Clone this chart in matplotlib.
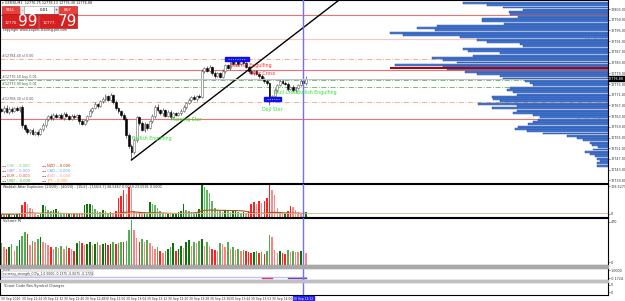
import numpy as np
import matplotlib.pyplot as plt
from matplotlib.patches import Rectangle

# --- Données (GER30 M1, 30 Sep 2020) ---
closes = [12765.0, 12766.2, 12764.5, 12765.8, 12764.9, 12766.0, 12765.2, 12766.4, 12759.6, 12758.2,
          12757.0, 12757.8, 12756.5, 12757.2, 12756.3, 12758.0, 12759.5, 12761.8, 12763.0, 12762.2,
          12763.6, 12762.8, 12763.5, 12762.4, 12763.9, 12763.0, 12762.1, 12763.2, 12762.6, 12763.4,
          12761.0, 12760.2, 12761.4, 12763.0, 12764.8, 12766.0, 12767.4, 12766.8, 12768.5, 12769.3,
          12770.5, 12769.0, 12770.8, 12768.2, 12766.0, 12764.8, 12763.5, 12762.0, 12756.0, 12752.0,
          12749.5, 12754.0, 12762.5, 12760.5, 12757.8, 12760.0, 12758.5, 12761.0, 12763.0, 12766.5,
          12765.2, 12764.0, 12765.3, 12763.2, 12764.5, 12762.8, 12764.0, 12763.5, 12764.2, 12765.0,
          12766.5, 12767.8, 12769.0, 12770.0, 12769.5, 12770.6, 12770.2, 12779.8, 12781.0, 12780.0,
          12781.5, 12779.2, 12778.0, 12779.0, 12777.8, 12779.8, 12782.0, 12781.0, 12783.5, 12782.5,
          12783.8, 12782.6, 12784.0, 12783.0, 12781.5, 12780.0, 12779.2, 12779.8, 12778.8, 12778.0,
          12777.0, 12776.3, 12775.2, 12769.2, 12770.5, 12772.8, 12774.6, 12776.0, 12775.5, 12775.0,
          12773.2, 12774.0, 12772.6, 12773.5, 12774.5, 12776.0, 12775.2, 12776.9]
open0 = 12765.5
upper_wick = [0.6, 0.4, 0.8, 0.5, 0.7, 0.3, 0.9, 0.5, 0.6, 0.4,
              0.7, 0.5, 0.8, 0.4, 0.6, 0.5, 0.9, 0.6, 0.4, 0.8,
              0.5, 0.7, 0.3, 0.6, 0.5, 0.8, 0.4, 0.6, 0.7, 0.5,
              0.4, 0.8, 0.6, 0.5, 0.9, 0.4, 0.7, 0.6, 0.5, 0.8,
              0.6, 0.4, 0.9, 0.5, 0.7, 0.4, 0.6, 0.5, 0.8, 0.6,
              0.4, 0.9, 0.7, 0.5, 0.6, 0.8, 0.4, 0.6, 0.7, 0.5,
              0.9, 0.4, 0.6, 0.5, 0.8, 0.6, 0.4, 0.7, 0.5, 0.6,
              0.8, 0.4, 0.6, 0.5, 0.9, 0.4, 0.6, 0.7, 0.5, 0.8,
              0.6, 0.4, 0.7, 0.5, 0.6, 0.9, 0.4, 0.6, 0.5, 0.8,
              0.6, 0.4, 0.8, 0.5, 0.6, 0.4, 0.7, 0.5, 0.6, 0.4,
              0.8, 0.5, 0.6, 0.7, 0.4, 0.6, 0.5, 0.8, 0.9, 0.5,
              0.6, 0.4, 0.7, 0.5, 0.6, 0.8, 0.4, 1.2]
lower_wick = [0.5, 0.7, 0.4, 0.6, 0.8, 0.5, 0.4, 0.7, 0.9, 0.6,
              0.5, 0.8, 0.4, 0.6, 0.7, 0.5, 0.4, 0.6, 0.8, 0.5,
              0.7, 0.4, 0.6, 0.5, 0.8, 0.4, 0.7, 0.6, 0.5, 0.4,
              0.8, 0.6, 0.5, 0.7, 0.4, 0.6, 0.5, 0.8, 0.4, 0.6,
              0.7, 0.5, 0.4, 0.6, 0.8, 0.5, 0.7, 0.6, 1.0, 0.8,
              2.9, 0.6, 0.5, 0.7, 0.4, 0.6, 0.8, 0.5, 0.4, 0.7,
              0.6, 0.5, 0.8, 0.4, 0.6, 0.7, 0.5, 0.4, 0.6, 0.8,
              0.5, 0.7, 0.4, 0.6, 0.5, 0.8, 0.4, 0.6, 0.7, 0.5,
              0.4, 0.8, 0.6, 0.5, 0.7, 0.4, 0.6, 0.5, 0.8, 0.4,
              0.6, 0.7, 0.5, 0.4, 0.6, 0.8, 0.5, 0.7, 0.4, 0.6,
              0.5, 0.8, 0.4, 2.0, 0.6, 0.5, 0.7, 0.4, 0.6, 0.5,
              0.8, 0.4, 0.6, 0.7, 0.5, 0.4, 0.6, 0.5]
volumes = [220, 180, 160, 180, 210, 140, 190, 260, 300, 340,
           320, 200, 250, 240, 270, 290, 240, 220, 200, 180,
           160, 180, 170, 190, 160, 190, 170, 160, 140, 220,
           250, 220, 200, 210, 240, 200, 210, 230, 200, 210,
           220, 200, 210, 230, 210, 220, 240, 230, 250, 360,
           460, 360, 280, 240, 270, 230, 260, 220, 190, 160,
           180, 140, 120, 140, 160, 180, 220, 140, 160, 190,
           170, 240, 260, 190, 240, 220, 250, 270, 190, 240,
           190, 160, 150, 140, 220, 210, 180, 230, 160, 180,
           150, 160, 140, 150, 140, 130, 120, 130, 140, 120,
           130, 110, 140, 310, 290, 150, 120, 140, 120, 110,
           150, 130, 140, 130, 130, 140, 150, 120]
# Waddah Attar Explosion : histogramme (+ vert / - rouge) et ligne d'explosion
wae = [-3, 2, -2, 3, -2, 2, 3, -4, -12, -15,
       -13, -9, -8, -3, 2, 3, 12, 11, 7, 6,
       7, 8, 6, 4, 3, -3, 4, 3, -4, 3,
       -4, -3, 12, 13, 13, 12, 8, 6, 5, 7,
       6, 4, 5, -4, -6, -18, -20, -26, -22, -29,
       -28, -6, 4, -5, -4, 5, 4, 15, 13, 12,
       9, 6, 4, -3, 4, -3, 3, 4, 5, 6,
       13, 7, 6, 5, 4, 5, 8, 31, 29, 26,
       23, 16, 9, 7, 6, 5, 7, 6, 5, 6,
       7, 5, 4, 5, -4, -6, -13, -15, -13, -16,
       -14, -16, -18, -31, -26, -21, -9, -5, -4, 4,
       -6, -11, -10, -7, -5, -4, -3, 5]
wae_line = [2.6, 2.7, 2.7, 2.8, 2.7, 2.8, 2.9, 3.0, 3.3, 3.6,
            3.8, 3.9, 3.8, 3.7, 3.6, 3.6, 3.7, 3.8, 3.8, 3.7,
            3.6, 3.6, 3.5, 3.5, 3.4, 3.4, 3.3, 3.3, 3.2, 3.2,
            3.2, 3.1, 3.3, 3.5, 3.6, 3.6, 3.5, 3.5, 3.4, 3.4,
            3.3, 3.3, 3.3, 3.4, 3.6, 3.9, 4.2, 4.5, 4.7, 4.9,
            5.0, 4.9, 4.7, 4.5, 4.3, 4.1, 4.0, 4.1, 4.2, 4.1,
            4.0, 3.9, 3.8, 3.7, 3.6, 3.5, 3.5, 3.4, 3.4, 3.5,
            3.6, 3.6, 3.7, 3.8, 4.0, 4.4, 5.2, 6.0, 6.4, 6.6,
            6.7, 6.7, 6.6, 6.5, 6.5, 6.4, 6.4, 6.3, 6.3, 6.2,
            6.2, 6.1, 6.0, 5.8, 5.4, 4.8, 4.2, 3.9, 3.7, 3.6,
            3.6, 3.7, 3.8, 4.2, 4.4, 4.5, 4.4, 4.3, 4.1, 4.0,
            3.9, 3.8, 3.8, 3.7, 3.6, 3.6, 3.5, 3.5]
wae_deadzone = 3.9

# Profil de volume (du haut vers le bas)
profile_top = 12805.3
profile_step = 0.856
profile_vol = [145, 121, 105, 85, 99, 98, 90, 126, 126, 104,
               171, 191, 173, 218, 205, 148, 131, 121, 88, 85,
               145, 140, 108, 135, 176, 165, 151, 213, 165, 161,
               143, 131, 108, 105, 83, 78, 75, 98, 101, 95,
               91, 116, 115, 108, 130, 91, 116, 91, 95, 75,
               68, 70, 75, 80, 90, 93, 81, 65, 41, 31,
               25, 18, 16, 10, 15, 23, 18, 13, 11, 8,
               11, 11]
poc_price = 12781.0
bid = 12776.88

# Niveaux horizontaux
red_levels = [12800.8, 12780.3, 12761.9]
pink_levels = [12791.9]
orange_levels = [12784.4, 12768.3]
green_levels = [12776.5, 12773.9]
level_names = ["#12784.40 sl 0.00", "#12776.50 buy 0.01", "#12773.90 buy 0.01", "#12768.30 sl 0.00"]
level_prices = [12784.4, 12776.5, 12773.9, 12768.3]

# Ligne de tendance (barre, prix) : rayon vers la droite
trend_a = (50, 12746.6)
trend_b = (92, 12778.1)

# Boites bleues (barre début, barre fin, prix bas, prix haut)
boxes = [(86, 95, 12783.6, 12785.1), (101, 107.5, 12768.7, 12770.2)]

# Figures de chandeliers
pattern_names = ["Bearish Engulfing", "Bear Cross", "Bull Cross", "Bullish Engulfing",
                 "Doji Star", "Bullish Engulfing", "Morning Star"]
pattern_bars = [87.8, 95.5, 105.0, 113.6, 100.0, 50.2, 65.2]
pattern_prices = [12782.1, 12778.8, 12771.7, 12771.7, 12765.3, 12754.5, 12761.6]
pattern_colors = ["#ff3030", "#ff3030", "#30e030", "#30e030", "#30e030", "#30e030", "#30e030"]

price_ticks = [12803.0 - 4.0 * k for k in range(17)]
time_bars = [0, 8, 16, 24, 32, 40, 48, 56, 64, 72, 80, 88, 96, 104]
time_labels = ["30 Sep 2020", "30 Sep 12:24", "30 Sep 12:32", "30 Sep 12:40", "30 Sep 12:48",
               "30 Sep 12:56", "30 Sep 13:04", "30 Sep 13:12", "30 Sep 13:20", "30 Sep 13:28",
               "30 Sep 13:36", "30 Sep 13:44", "30 Sep 13:52", "30 Sep 14:00"]
cursor_bar = 116
cursor_label = "30 Sep 14:12"

currencies = ["CHF", "GBP", "EUR", "USD", "NZD", "CAD", "AUD", "JPY"]
currency_values = [0.000, 0.000, 0.000, 0.000, 0.000, 0.000, 0.000, 0.000]
currency_colors = ["#66cc66", "#8888ff", "#ff3333", "#33aa33", "#cc3300", "#33bbee", "#ff88cc", "#ff9900"]

# --- Figure ---
W, H = 625, 301
fig = plt.figure(figsize=(W / 100, H / 100), dpi=100)


def ax_px(x0, y0, x1, y1):
    return fig.add_axes([x0 / W, 1 - y1 / H, (x1 - x0) / W, (y1 - y0) / H])


XMIN, XMAX = -0.5, 233.0
FS = 2.4

n = len(closes)
idx = np.arange(n)
c = np.array(closes)
o = np.r_[open0, c[:-1]]
hi = np.maximum(o, c) + np.array(upper_wick)
lo = np.minimum(o, c) - np.array(lower_wick)
bull = c >= o


def style_panel(a):
    a.set_xlim(XMIN, XMAX)
    a.set_xticks([])
    a.yaxis.tick_right()
    a.tick_params(axis='y', labelsize=FS, length=1.2, pad=0.6, width=0.4, colors='#333333')
    for s in a.spines.values():
        s.set_linewidth(0.8)
        s.set_color('black')
    a.axvline(cursor_bar, color='#7070ff', lw=1.0, zorder=6)


# Graphique principal
ax = ax_px(0, 0, 608, 183)
style_panel(ax)
ax.set_ylim(12738.0, 12806.4)
ax.set_yticks(price_ticks)
ax.set_yticklabels([f"{p:.2f}" for p in price_ticks])

for lv in red_levels:
    ax.axhline(lv, color='#f07070', lw=0.8, zorder=1)
for lv in pink_levels:
    ax.axhline(lv, color='#f8c4c4', lw=0.8, zorder=1)
for lv in orange_levels:
    ax.axhline(lv, color='#f4a080', lw=0.6, ls=(0, (6, 2, 1, 2)), zorder=1)
for lv in green_levels:
    ax.axhline(lv, color='#60b060', lw=0.6, ls=(0, (6, 2, 1, 2)), zorder=1)
ax.axhline(bid, color='#c8c8c8', lw=0.7, zorder=1)
for name, p in zip(level_names, level_prices):
    ax.text(0.2, p + 0.5, name, fontsize=2.4, color='#555555', va='bottom', ha='left')

ax.vlines(idx, lo, hi, color='#444444', lw=0.5, zorder=3)
ax.bar(idx, np.maximum(np.abs(c - o), 0.2), bottom=np.minimum(o, c), width=0.72,
       color=np.where(bull, 'white', 'black'), edgecolor=np.where(bull, '#666666', 'black'),
       lw=0.4, zorder=4)

# rayon : part du point A et continue au-delà du point B
slope = (trend_b[1] - trend_a[1]) / (trend_b[0] - trend_a[0])
ray_x = [trend_a[0], trend_a[0] + 200]
ray_y = [trend_a[1], trend_a[1] + 200 * slope]
ax.plot(ray_x, ray_y, color='black', lw=1.0, zorder=5)

for b0, b1, p0, p1 in boxes:
    ax.add_patch(Rectangle((b0, p0), b1 - b0, p1 - p0, color='#1010ee', zorder=5))
    ax.plot([b0 + 1, b1 - 1], [(p0 + p1) / 2] * 2, color='white', lw=0.4, ls=(0, (2, 2)), zorder=6)

for name, b, p, col in zip(pattern_names, pattern_bars, pattern_prices, pattern_colors):
    ax.text(b, p, name, fontsize=3.4, color=col, ha='left', va='center', zorder=7)

# Profil de volume sur un axe jumeau
axp = ax.twiny()
axp.set_xlim(608, 0)
axp.set_xticks([])
levels = profile_top - profile_step * np.arange(len(profile_vol))
axp.barh(levels, profile_vol, height=profile_step * 0.85, left=0, color='#4a80d8',
         edgecolor='#1c3c8c', lw=0.3, zorder=2)
axp.hlines(poc_price, 0, max(profile_vol), color='#b00000', lw=1.4, zorder=3)
axp.axhline(bid, color='#c0c0c0', lw=0.8, zorder=3)
for s in axp.spines.values():
    s.set_visible(False)
for txt, p, col in [("R2 - 12801.4", 12801.0, '#4a9a4a'), ("R1 - 12792.0", 12792.1, '#4a9a4a'),
                    ("PP - 12781.0", 12781.4, '#c04040'), ("S1 - S2 - 12762.0", 12762.1, '#4a9a4a')]:
    ax.text(232.5, p, txt, fontsize=2.4, color=col, ha='right', va='center', zorder=8)

ax.text(1.0, bid, f"{bid:.2f}", transform=ax.get_yaxis_transform(), fontsize=FS, color='white',
        va='center', ha='left', bbox=dict(boxstyle='square,pad=0.15', fc='black', ec='black'),
        clip_on=False, zorder=9)

# Waddah Attar Explosion
ax2 = ax_px(0, 184, 608, 217)
style_panel(ax2)
w = np.array(wae)
mag = np.abs(w)
rising = np.r_[True, mag[1:] >= mag[:-1]]
wcol = np.where(w > 0, np.where(rising, '#0a780a', '#62b862'), np.where(rising, '#ff2020', '#ff8a8a'))
ax2.bar(idx, mag, width=0.6, color=wcol)
ax2.plot(idx, wae_line, color='#a0521e', lw=0.8)
ax2.axhline(wae_deadzone, color='#d8b890', lw=0.6)
ax2.set_ylim(0, 32)
ax2.set_yticks([3, 30])
ax2.set_yticklabels(['0', '109.5279'])
ax2.text(0.5, 31, "Waddah Attar Explosion: [20/20] - [40/20] - [15/2] - [150/3.7] 48.5467 0.0059 23.0591 0.5000",
         fontsize=2.4, color='#333333', va='top')

# Volume M
ax3 = ax_px(0, 218, 608, 265)
style_panel(ax3)
v = np.array(volumes)
vup = np.r_[True, v[1:] > v[:-1]]
vcol = np.where(vup, np.where(bull, '#0b730b', '#4caf50'), np.where(bull, '#ff8080', '#ff2020'))
ax3.bar(idx, v, width=0.6, color=vcol)
ax3.set_ylim(0, 480)
ax3.set_yticks([30, 440])
ax3.set_yticklabels(['0', '470'])
ax3.text(0.5, 465, "Volume M", fontsize=2.6, color='#333333', va='top')

# CCFp
ax4 = ax_px(0, 268, 608, 280)
style_panel(ax4)
ax4.set_ylim(-0.2, 0.1)
ax4.set_yticks([-0.15, 0.05])
ax4.set_yticklabels(['-0.1724', '1.0000'])
ax4.plot([0, 117], [-0.12, -0.12], color='#c8c0f0', lw=1.0)
ax4.plot([100, 104], [-0.14, -0.14], color='#d0407a', lw=1.0)
ax4.plot([110, 117], [-0.14, -0.14], color='#7a3fb0', lw=1.0)
ax4.text(0.5, 0.095, "CCFp", fontsize=2.2, color='#333333', va='top')
ax4.text(0.5, -0.045, "currency_strength_CCFp_1.0 0000 -0.1375 -0.0675 -0.1724",
         fontsize=2.2, color='#333333', va='center',
         bbox=dict(boxstyle='square,pad=0.1', fc='white', ec='#888888', lw=0.3))

# YCroot
ax5 = ax_px(0, 282, 608, 295)
style_panel(ax5)
ax5.set_ylim(0, 1)
ax5.set_yticks([0.2, 0.8])
ax5.set_yticklabels(['0', '0'])
ax5.text(0.5, 0.85, "YCroot Code Res Symbol Changer", fontsize=2.6, color='#333333', va='top')
for b, lab in zip(time_bars, time_labels):
    ax5.text(b, -0.12, lab, fontsize=2.2, color='#333333', ha='left', va='top', clip_on=False)
ax5.text(cursor_bar, -0.12, cursor_label, fontsize=2.2, color='white', ha='center', va='top',
         clip_on=False, bbox=dict(boxstyle='square,pad=0.15', fc='#2020ff', ec='#2020ff'))

# Bandes grises entre sous-fenêtres
ui = fig.add_axes([0, 0, 1, 1])
ui.set_xlim(0, W)
ui.set_ylim(H, 0)
ui.axis('off')
ui.add_patch(Rectangle((0, 265), 608, 3, color='#a8a8a8'))
ui.add_patch(Rectangle((0, 280), 608, 2, color='#c0c0c0'))

# Panneau de trading en haut à gauche
ui.text(2, 2.5, "▾ GER30,M1  12776.75 12778.13 12776.38 12776.88", fontsize=2.4, color='#222222', va='center')
ui.add_patch(Rectangle((2, 6), 17, 8, fc='#e8413c', ec='#b01010', lw=0.4))
ui.text(10.5, 10, "SELL", fontsize=2.8, color='white', ha='center', va='center')
ui.add_patch(Rectangle((20, 6), 4, 8, fc='#e8e8e8', ec='#999999', lw=0.4))
ui.text(22, 10, "-", fontsize=2.8, color='black', ha='center', va='center')
ui.add_patch(Rectangle((24, 6), 30, 8, fc='white', ec='#999999', lw=0.4))
ui.text(44, 10, "0.01", fontsize=2.8, color='black', ha='center', va='center')
ui.add_patch(Rectangle((54, 6), 4, 8, fc='#e8e8e8', ec='#999999', lw=0.4))
ui.text(56, 10, "+", fontsize=2.8, color='black', ha='center', va='center')
ui.add_patch(Rectangle((59, 6), 18, 8, fc='#e8413c', ec='#b01010', lw=0.4))
ui.text(68, 10, "BUY", fontsize=2.8, color='white', ha='center', va='center')
ui.add_patch(Rectangle((2, 14), 36, 14, fc='#d81e1e', ec='#a01010', lw=0.4))
ui.add_patch(Rectangle((39, 14), 38, 14, fc='#d81e1e', ec='#a01010', lw=0.4))
ui.text(11, 23, "12776.", fontsize=2.8, color='white', ha='center', va='center')
ui.text(28, 21, "99", fontsize=11, color='white', ha='center', va='center')
ui.text(49, 23, "12777.", fontsize=2.8, color='white', ha='center', va='center')
ui.text(67, 21, "79", fontsize=11, color='white', ha='center', va='center')
ui.text(3, 30.5, "copyright www.expert-trading-pro.com", fontsize=2.4, color='#333333', va='center')

# Légende des devises
for k, (cur, val, col) in enumerate(zip(currencies, currency_values, currency_colors)):
    x0 = 2 + 40 * (k // 4)
    y0 = 166 + 5 * (k % 4)
    ui.plot([x0, x0 + 4], [y0, y0], color='#cc2222', lw=0.6, ls=(0, (1.5, 1)))
    ui.text(x0 + 5, y0, f"{cur} -- {val:.3f}", fontsize=2.6, color=col, va='center')

fig.savefig('out.png', dpi=100)
